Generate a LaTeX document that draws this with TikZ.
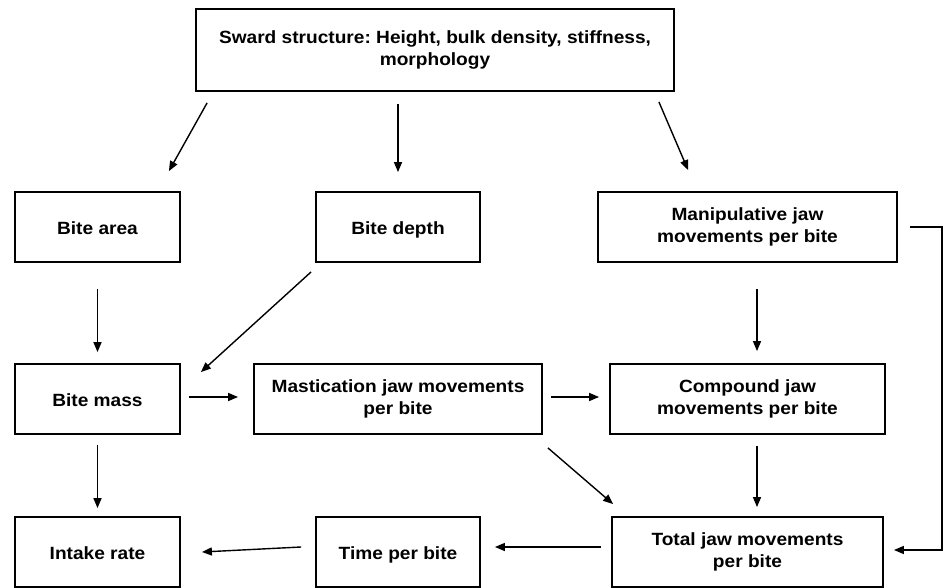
\documentclass[tikz,border=0pt]{standalone}
\usepackage{fontspec}
\newfontfamily\boxfont[FakeStretch=1.08]{Liberation Sans}
\usetikzlibrary{arrows.meta}
\frenchspacing

\begin{document}
\begin{tikzpicture}[x=1pt,y=-1pt,
    box/.style={draw,line width=1.8pt,align=center,inner sep=0pt,
      minimum height=70pt,font=\boxfont\bfseries\fontsize{17.7}{22}\selectfont},
    oneline/.style={box,text height=18pt,text depth=4pt},
    arr/.style={line width=1.4pt,-{Triangle[length=10pt,width=8pt]}}]
  \useasboundingbox (0,0) rectangle (945,588);
  % top box
  \node[box,minimum width=478pt,minimum height=82pt] (sward) at (435,50)
    {Sward structure: Height, bulk density, stiffness,\\morphology};
  % first row
  \node[oneline,minimum width=165pt] (bitearea) at (97.5,227) {Bite area};
  \node[oneline,minimum width=164pt] (bitedepth) at (398,227) {Bite depth};
  \node[box,minimum width=299pt] (manipjaw) at (747.5,227)
    {Manipulative jaw\\movements per bite};
  % second row
  \node[oneline,minimum width=165pt] (bitemass) at (97.5,399) {Bite mass};
  \node[box,minimum width=288pt] (mastjaw) at (398,399)
    {Mastication jaw movements\\per bite};
  \node[box,minimum width=275pt] (compjaw) at (747.5,399)
    {Compound jaw\\movements per bite};
  % third row
  \node[oneline,minimum width=165pt] (intake) at (97.5,552) {Intake rate};
  \node[oneline,minimum width=164pt] (timebite) at (398,552) {Time per bite};
  \node[box,minimum width=271pt] (totaljaw) at (747.5,552)
    {Total jaw movements\\per bite};
  % from sward
  \draw[arr] ([xshift=12pt,yshift=-11pt]sward.south west) -- ([xshift=-12pt,yshift=20pt]bitearea.north east);
  \draw[arr] ([yshift=-12pt]sward.south -| bitedepth) -- ([yshift=19pt]bitedepth.north);
  \draw[arr] ([xshift=-16pt,yshift=-10pt]sward.south east) -- ([xshift=91pt,yshift=21pt]manipjaw.north west);
  % into bite mass
  \draw[arr] ([yshift=-26pt]bitearea.south) -- ([yshift=11pt]bitemass.north);
  \draw[arr] ([xshift=-4pt,yshift=-9pt]bitedepth.south west) -- ([xshift=20pt,yshift=-9pt]bitemass.north east);
  % jaw movements
  \draw[arr] ([xshift=9.5pt,yshift=-26pt]manipjaw.south) -- ([xshift=9.5pt,yshift=12pt]compjaw.north);
  \draw[arr] ([xshift=8pt,yshift=2pt]bitemass.east) -- ([xshift=-15pt,yshift=2pt]mastjaw.west);
  \draw[arr] ([xshift=8pt,yshift=2pt]mastjaw.east) -- ([xshift=-10pt,yshift=2pt]compjaw.west);
  \draw[arr] ([xshift=5pt,yshift=-13pt]mastjaw.south east) -- ([xshift=2pt,yshift=12pt]totaljaw.north west);
  \draw[arr] ([xshift=9.5pt,yshift=-11pt]compjaw.south) -- ([xshift=9.5pt,yshift=9pt]totaljaw.north);
  \draw[arr] ([xshift=12pt]manipjaw.east) -| (942,550) -- ([xshift=10pt,yshift=2pt]totaljaw.east);
  % bottom row
  \draw[arr] ([yshift=-10pt]bitemass.south) -- ([yshift=8pt]intake.north);
  \draw[arr] ([xshift=-10pt,yshift=5pt]totaljaw.west) -- ([xshift=14pt,yshift=5pt]timebite.east);
  \draw[arr] ([xshift=-14pt,yshift=5pt]timebite.west) -- ([xshift=21pt]intake.east);
\end{tikzpicture}
\end{document}
